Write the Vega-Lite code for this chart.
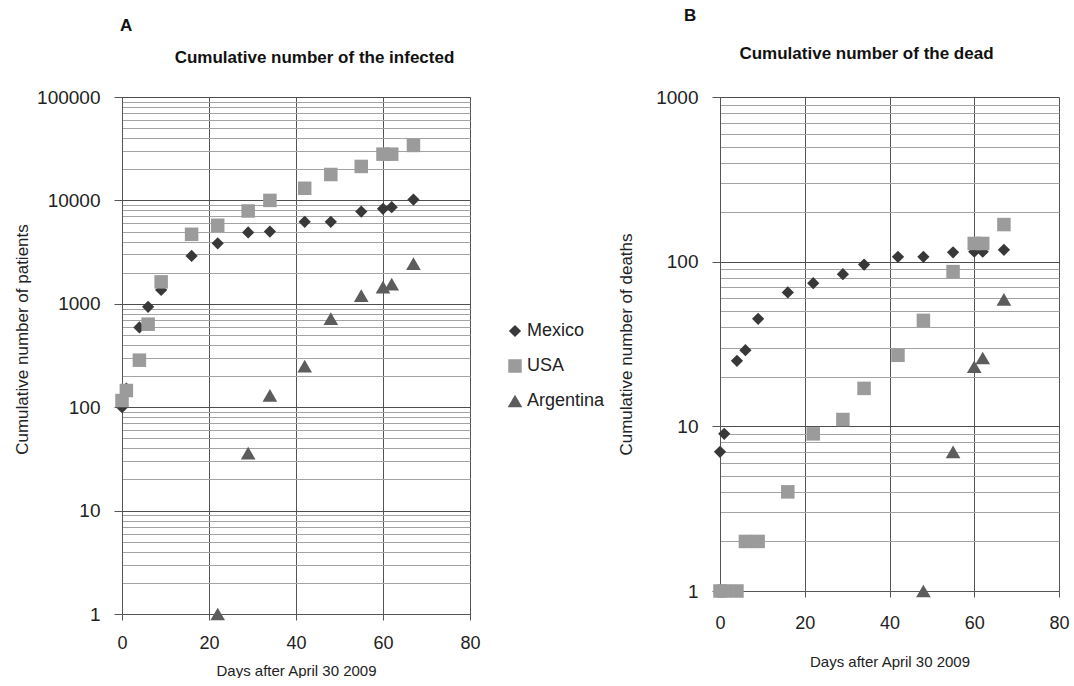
{
  "$schema": "https://vega.github.io/schema/vega-lite/v6.json",
  "background": "white",
  "padding": {"left": 13, "top": 7, "right": 0, "bottom": 0},
  "config": {
    "font": "Liberation Sans",
    "view": {"stroke": null},
    "axis": {"labelColor": "#222", "titleColor": "#222", "titleFontWeight": "normal", "labelFlush": false, "labelOverlap": false, "domainColor": "#555", "tickColor": "#555"}
  },
  "datasets": {
    "infected": [
      {"country": "Mexico", "day": 0, "value": 100},
      {"country": "Mexico", "day": 1, "value": 151},
      {"country": "Mexico", "day": 4, "value": 590},
      {"country": "Mexico", "day": 6, "value": 935},
      {"country": "Mexico", "day": 9, "value": 1360},
      {"country": "Mexico", "day": 16, "value": 2900},
      {"country": "Mexico", "day": 22, "value": 3850},
      {"country": "Mexico", "day": 29, "value": 4900},
      {"country": "Mexico", "day": 34, "value": 5000},
      {"country": "Mexico", "day": 42, "value": 6200},
      {"country": "Mexico", "day": 48, "value": 6200},
      {"country": "Mexico", "day": 55, "value": 7800},
      {"country": "Mexico", "day": 60, "value": 8300},
      {"country": "Mexico", "day": 62, "value": 8600},
      {"country": "Mexico", "day": 67, "value": 10200},
      {"country": "USA", "day": 0, "value": 116},
      {"country": "USA", "day": 1, "value": 145},
      {"country": "USA", "day": 4, "value": 285},
      {"country": "USA", "day": 6, "value": 635},
      {"country": "USA", "day": 9, "value": 1630},
      {"country": "USA", "day": 16, "value": 4700},
      {"country": "USA", "day": 22, "value": 5750},
      {"country": "USA", "day": 29, "value": 7900},
      {"country": "USA", "day": 34, "value": 10000},
      {"country": "USA", "day": 42, "value": 13100},
      {"country": "USA", "day": 48, "value": 17800},
      {"country": "USA", "day": 55, "value": 21300},
      {"country": "USA", "day": 60, "value": 28000},
      {"country": "USA", "day": 62, "value": 28000},
      {"country": "USA", "day": 67, "value": 34000},
      {"country": "Argentina", "day": 22, "value": 1},
      {"country": "Argentina", "day": 29, "value": 36},
      {"country": "Argentina", "day": 34, "value": 130},
      {"country": "Argentina", "day": 42, "value": 250},
      {"country": "Argentina", "day": 48, "value": 720},
      {"country": "Argentina", "day": 55, "value": 1200},
      {"country": "Argentina", "day": 60, "value": 1450},
      {"country": "Argentina", "day": 62, "value": 1550},
      {"country": "Argentina", "day": 67, "value": 2450}
    ],
    "dead": [
      {"country": "Mexico", "day": 0, "value": 7},
      {"country": "Mexico", "day": 1, "value": 9},
      {"country": "Mexico", "day": 4, "value": 25},
      {"country": "Mexico", "day": 6, "value": 29},
      {"country": "Mexico", "day": 9, "value": 45},
      {"country": "Mexico", "day": 16, "value": 65},
      {"country": "Mexico", "day": 22, "value": 74},
      {"country": "Mexico", "day": 29, "value": 84},
      {"country": "Mexico", "day": 34, "value": 96},
      {"country": "Mexico", "day": 42, "value": 107},
      {"country": "Mexico", "day": 48, "value": 107},
      {"country": "Mexico", "day": 55, "value": 114},
      {"country": "Mexico", "day": 60, "value": 115},
      {"country": "Mexico", "day": 62, "value": 115},
      {"country": "Mexico", "day": 67, "value": 118},
      {"country": "USA", "day": 0, "value": 1},
      {"country": "USA", "day": 1, "value": 1},
      {"country": "USA", "day": 4, "value": 1},
      {"country": "USA", "day": 6, "value": 2},
      {"country": "USA", "day": 9, "value": 2},
      {"country": "USA", "day": 16, "value": 4},
      {"country": "USA", "day": 22, "value": 9},
      {"country": "USA", "day": 29, "value": 11},
      {"country": "USA", "day": 34, "value": 17},
      {"country": "USA", "day": 42, "value": 27},
      {"country": "USA", "day": 48, "value": 44},
      {"country": "USA", "day": 55, "value": 87},
      {"country": "USA", "day": 60, "value": 129},
      {"country": "USA", "day": 62, "value": 129},
      {"country": "USA", "day": 67, "value": 168},
      {"country": "Argentina", "day": 48, "value": 1},
      {"country": "Argentina", "day": 55, "value": 7},
      {"country": "Argentina", "day": 60, "value": 23},
      {"country": "Argentina", "day": 62, "value": 26},
      {"country": "Argentina", "day": 67, "value": 59}
    ]
  },
  "spacing": 136,
  "hconcat": [
    {
      "width": 348,
      "height": 517,
      "title": {"text": "A", "anchor": "start", "frame": "group", "fontSize": 17, "fontWeight": "bold", "color": "#111", "offset": 13, "dx": -2},
      "data": {"name": "infected"},
      "layer": [
        {
          "mark": {"type": "point", "filled": true, "opacity": 1},
          "encoding": {
            "x": {"field": "day", "type": "quantitative", "scale": {"domain": [0, 80], "nice": false},
              "axis": {"values": [0, 20, 40, 60, 80], "grid": true, "gridColor": "#555", "tickSize": 6, "labelFontSize": 18, "labelPadding": 14, "title": "Days after April 30  2009", "titleFontSize": 15, "titlePadding": 11}},
            "y": {"field": "value", "type": "quantitative", "scale": {"type": "log", "domain": [1, 100000], "nice": false},
              "axis": {
                "values": [1,2,3,4,5,6,7,8,9,10,20,30,40,50,60,70,80,90,100,200,300,400,500,600,700,800,900,1000,2000,3000,4000,5000,6000,7000,8000,9000,10000,20000,30000,40000,50000,60000,70000,80000,90000,100000],
                "format": "d",
                "labelExpr": "indexof(['1','10','100','1000','10000','100000'], datum.label) >= 0 ? datum.label : ''",
                "grid": true,
                "gridColor": {"condition": {"test": "indexof([1,10,100,1000,10000,100000], datum.value) >= 0", "value": "#4d4d4d"}, "value": "#a3a3a3"},
                "tickOpacity": {"condition": {"test": "indexof([1,10,100,1000,10000,100000], datum.value) >= 0", "value": 1}, "value": 0},
                "tickSize": 8, "labelFontSize": 19, "labelPadding": 14,
                "title": "Cumulative number of  patients", "titleFontSize": 17, "titlePadding": 5, "titleY": 242
              }},
            "shape": {"field": "country", "type": "nominal", "scale": {"domain": ["Mexico", "USA", "Argentina"], "range": ["diamond", "square", "triangle-up"]},
              "legend": {"orient": "none", "legendX": 384, "legendY": 225, "title": null, "labelFontSize": 18, "symbolSize": 110, "rowPadding": 17, "labelOffset": 3, "labelColor": "#222"}},
            "color": {"field": "country", "type": "nominal", "scale": {"domain": ["Mexico", "USA", "Argentina"], "range": ["#383838", "#9b9b9b", "#5c5c5c"]},
              "legend": {"orient": "none", "legendX": 384, "legendY": 225, "title": null, "labelFontSize": 18, "symbolSize": 110, "rowPadding": 17, "labelOffset": 3, "labelColor": "#222"}},
            "size": {"field": "country", "type": "nominal", "scale": {"domain": ["Mexico", "USA", "Argentina"], "range": [150, 215, 190]}, "legend": null}
          }
        },
        {
          "mark": {"type": "point", "opacity": 0},
          "encoding": {
            "x": {"field": "day", "type": "quantitative", "scale": {"domain": [0, 80], "nice": false},
              "axis": {"orient": "top", "title": "Cumulative number of the infected", "labels": false, "ticks": false, "domain": false, "grid": false, "titleFontSize": 17, "titleFontWeight": "bold", "titleColor": "#111", "titlePadding": 31, "titleX": 192}}
          }
        }
      ],
      "resolve": {"axis": {"x": "independent"}}
    },
    {
      "width": 339,
      "height": 494,
      "title": {"text": "B", "anchor": "start", "frame": "group", "fontSize": 17, "fontWeight": "bold", "color": "#111", "offset": 19, "dx": -36},
      "data": {"name": "dead"},
      "layer": [
        {
          "mark": {"type": "point", "filled": true, "opacity": 1},
          "encoding": {
            "x": {"field": "day", "type": "quantitative", "scale": {"domain": [0, 80], "nice": false},
              "axis": {"values": [0, 20, 40, 60, 80], "grid": true, "gridColor": "#555", "tickSize": 6, "labelFontSize": 18, "labelPadding": 17, "title": "Days after April 30  2009", "titleFontSize": 15, "titlePadding": 22}},
            "y": {"field": "value", "type": "quantitative", "scale": {"type": "log", "domain": [1, 1000], "nice": false},
              "axis": {
                "values": [1,2,3,4,5,6,7,8,9,10,20,30,40,50,60,70,80,90,100,200,300,400,500,600,700,800,900,1000],
                "format": "d",
                "labelExpr": "indexof(['1','10','100','1000'], datum.label) >= 0 ? datum.label : ''",
                "grid": true,
                "gridColor": {"condition": {"test": "indexof([1,10,100,1000], datum.value) >= 0", "value": "#4d4d4d"}, "value": "#a3a3a3"},
                "tickOpacity": {"condition": {"test": "indexof([1,10,100,1000], datum.value) >= 0", "value": 1}, "value": 0},
                "tickSize": 8, "labelFontSize": 19, "labelPadding": 14,
                "title": "Cumulative number of  deaths", "titleFontSize": 17, "titlePadding": 20
              }},
            "shape": {"field": "country", "type": "nominal", "scale": {"domain": ["Mexico", "USA", "Argentina"], "range": ["diamond", "square", "triangle-up"]}, "legend": null},
            "color": {"field": "country", "type": "nominal", "scale": {"domain": ["Mexico", "USA", "Argentina"], "range": ["#383838", "#9b9b9b", "#5c5c5c"]}, "legend": null},
            "size": {"field": "country", "type": "nominal", "scale": {"domain": ["Mexico", "USA", "Argentina"], "range": [150, 215, 190]}, "legend": null}
          }
        },
        {
          "mark": {"type": "point", "opacity": 0},
          "encoding": {
            "x": {"field": "day", "type": "quantitative", "scale": {"domain": [0, 80], "nice": false},
              "axis": {"orient": "top", "title": "Cumulative number of the dead", "labels": false, "ticks": false, "domain": false, "grid": false, "titleFontSize": 17, "titleFontWeight": "bold", "titleColor": "#111", "titlePadding": 35, "titleX": 146}}
          }
        }
      ],
      "resolve": {"axis": {"x": "independent"}}
    }
  ]
}
